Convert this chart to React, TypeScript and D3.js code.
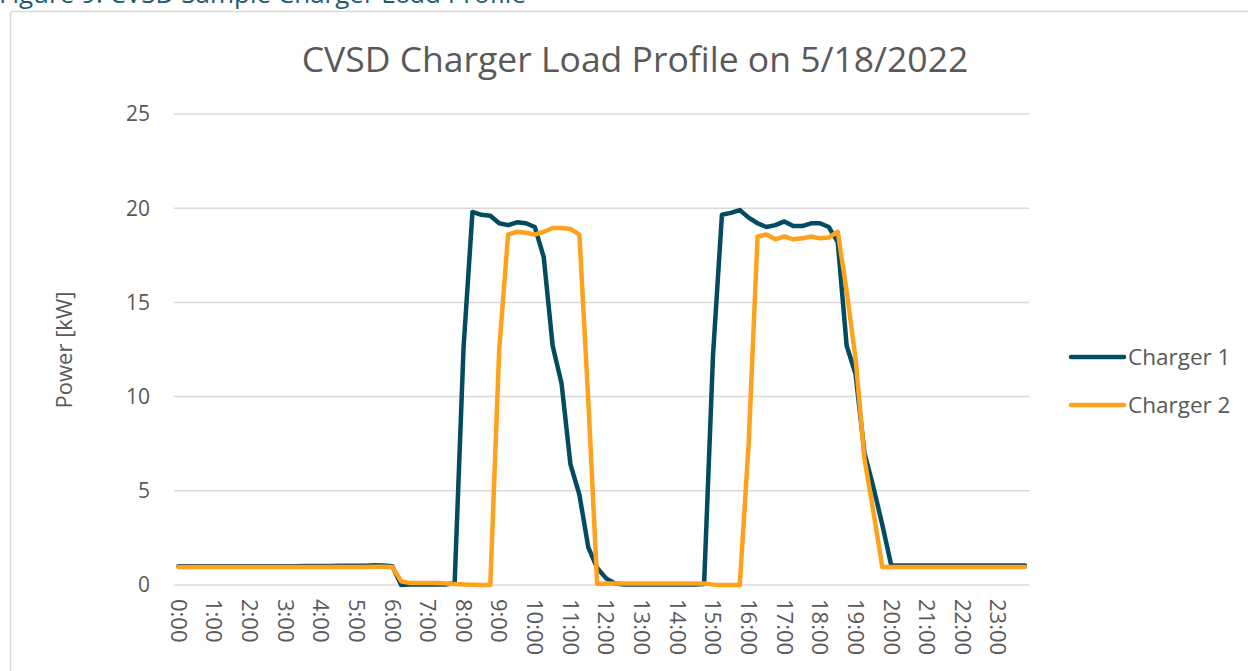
import * as d3 from 'd3'
import { useEffect, useRef } from 'react'

// 15-minute intervals over the day
const times: string[] = d3.range(96).map((i) => `${Math.floor(i / 4)}:${String((i % 4) * 15).padStart(2, '0')}`)
const hourLabels: string[] = d3.range(24).map((h) => `${h}:00`)
const yTicks = [0, 5, 10, 15, 20, 25]

// Charger 1 power [kW]
const charger1: number[] = [
  1.0, 1.0, 1.0, 1.0, 1.0, 1.0, 1.0, 1.0, 1.0, 1.0, 1.0, 1.0,
  1.0, 1.0, 1.01, 1.01, 1.01, 1.01, 1.02, 1.02, 1.02, 1.02, 1.05, 1.04,
  1.0, 0.0, 0.03, 0.03, 0.03, 0.03, 0.03, 0.1,
  12.6, 19.8, 19.65, 19.6, 19.2, 19.1, 19.25, 19.2, 19.0, 17.4, 12.7, 10.7,
  6.4, 4.8, 2.0, 0.9, 0.35, 0.08, 0.03, 0.03, 0.03, 0.03, 0.03, 0.03,
  0.03, 0.03, 0.03, 0.05, 12.2, 19.65, 19.75, 19.9, 19.5, 19.2, 19.0, 19.1,
  19.3, 19.05, 19.05, 19.2, 19.2, 19.0, 18.2, 12.7, 11.2, 7.0, 5.2, 3.2,
  1.05, 1.04, 1.04, 1.04, 1.04, 1.04, 1.04, 1.04, 1.04, 1.04, 1.04, 1.04,
  1.04, 1.04, 1.04, 1.04,
]

// Charger 2 power [kW]
const charger2: number[] = [
  0.96, 0.96, 0.96, 0.96, 0.96, 0.96, 0.96, 0.96, 0.96, 0.96, 0.96, 0.96,
  0.96, 0.96, 0.96, 0.96, 0.96, 0.96, 0.96, 0.96, 0.96, 0.96, 0.97, 0.97,
  0.96, 0.2, 0.1, 0.1, 0.1, 0.1, 0.08, 0.05,
  0.03, 0.01, 0.0, 0.0, 12.5, 18.6, 18.75, 18.7, 18.6, 18.75, 18.95, 18.95,
  18.9, 18.6, 9.8, 0.05, 0.08, 0.08, 0.08, 0.08, 0.08, 0.08, 0.08, 0.08,
  0.08, 0.08, 0.08, 0.08, 0.02, 0.0, 0.0, 0.0, 7.5, 18.5, 18.6, 18.35,
  18.5, 18.35, 18.4, 18.5, 18.4, 18.45, 18.75, 15.6, 12.0, 6.7, 3.9, 0.95,
  0.95, 0.95, 0.95, 0.95, 0.95, 0.95, 0.95, 0.95, 0.95, 0.95, 0.95, 0.95,
  0.95, 0.95, 0.95, 0.95,
]

const seriesNames = ['Charger 1', 'Charger 2']
const colors = ['#024B60', '#FFA11C']

const W = 1248
const H = 671
const FONT = "'Open Sans', 'Noto Sans', sans-serif"
const TEXT = '#595959'

export default function App() {
  const ref = useRef<SVGSVGElement>(null)

  useEffect(() => {
    const svg = d3.select(ref.current)
    svg.selectAll('*').remove()

    const x = d3.scalePoint<string>().domain(times).range([174, 1029.3]).padding(0.5)
    const y = d3.scaleLinear().domain([0, 25]).range([585, 114])

    // caption, cut off by the top of the page as in the source
    svg.append('text')
      .attr('x', -1).attr('y', 3)
      .attr('font-family', FONT).attr('font-size', 26)
      .attr('fill', '#1E5C6F')
      .text('Figure 9: CVSD Sample Charger Load Profile')

    // chart frame
    svg.append('rect')
      .attr('x', 10.5).attr('y', 11.5)
      .attr('width', W).attr('height', H)
      .attr('rx', 3)
      .attr('fill', '#fff')
      .attr('stroke', '#D9D9D9').attr('stroke-width', 1.5)

    svg.append('text')
      .attr('x', 635).attr('y', 72)
      .attr('text-anchor', 'middle')
      .attr('font-family', FONT).attr('font-size', 35.5)
      .attr('fill', TEXT)
      .text('CVSD Charger Load Profile on 5/18/2022')

    // gridlines
    svg.append('g').selectAll('line')
      .data(yTicks)
      .join('line')
      .attr('x1', 174).attr('x2', 1029.3)
      .attr('y1', (d) => y(d)).attr('y2', (d) => y(d))
      .attr('stroke', '#D9D9D9').attr('stroke-width', 1.5)

    // y tick labels
    svg.append('g').selectAll('text')
      .data(yTicks)
      .join('text')
      .attr('x', 150).attr('y', (d) => y(d))
      .attr('dy', '0.35em')
      .attr('text-anchor', 'end')
      .attr('font-family', FONT).attr('font-size', 21)
      .attr('fill', TEXT)
      .text((d) => d)

    svg.append('text')
      .attr('transform', 'translate(64,350) rotate(-90)')
      .attr('dy', '0.35em')
      .attr('text-anchor', 'middle')
      .attr('font-family', FONT).attr('font-size', 22)
      .attr('fill', TEXT)
      .text('Power [kW]')

    // x tick labels, rotated to read downward
    svg.append('g').selectAll('text')
      .data(hourLabels)
      .join('text')
      .attr('transform', (d) => `translate(${x(d)},599) rotate(90)`)
      .attr('dy', '0.35em')
      .attr('font-family', FONT).attr('font-size', 22)
      .attr('fill', TEXT)
      .text((d) => d)

    const line = d3.line<number>()
      .x((_, i) => x(times[i]) as number)
      .y((d) => y(d))

    const all = [charger1, charger2]
    svg.append('g').selectAll('path')
      .data(all)
      .join('path')
      .attr('d', (d) => line(d))
      .attr('fill', 'none')
      .attr('stroke', (_, i) => colors[i])
      .attr('stroke-width', 4.5)
      .attr('stroke-linejoin', 'round')
      .attr('stroke-linecap', 'round')

    // legend
    const legend = svg.append('g').selectAll('g')
      .data(seriesNames)
      .join('g')
      .attr('transform', (_, i) => `translate(0,${357 + i * 48})`)
    legend.append('line')
      .attr('x1', 1071).attr('x2', 1124)
      .attr('stroke', (_, i) => colors[i])
      .attr('stroke-width', 4.5)
      .attr('stroke-linecap', 'round')
    legend.append('text')
      .attr('x', 1128).attr('dy', '0.35em')
      .attr('font-family', FONT).attr('font-size', 22.5)
      .attr('fill', TEXT)
      .text((d) => d)
  }, [])

  return (
    <svg ref={ref} width={W} height={H} style={{ position: 'absolute', left: 0, top: 0, background: '#fff' }} />
  )
}
